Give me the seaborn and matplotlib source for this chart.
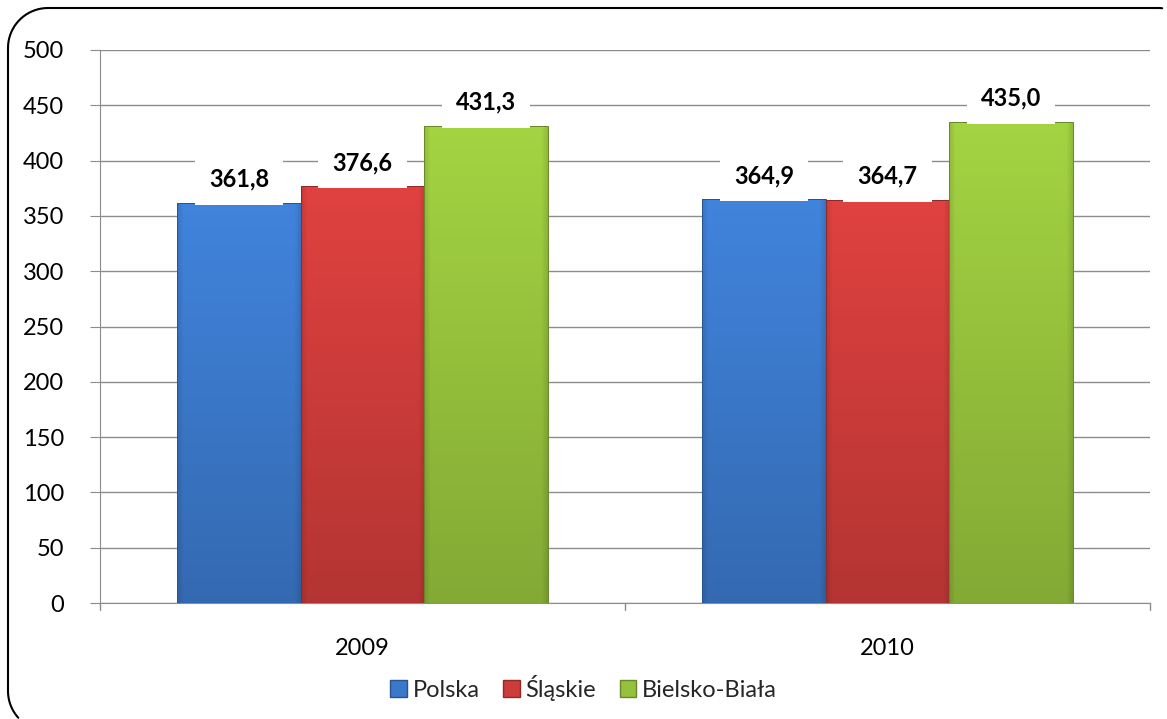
import numpy as np
import pandas as pd
import matplotlib.pyplot as plt
import matplotlib.colors as mcolors
import matplotlib.transforms as mtransforms
import seaborn as sns
from matplotlib.lines import Line2D
from matplotlib.patches import Patch

# data
years = ['2009', '2010']
regions = ['Polska', 'Śląskie', 'Bielsko-Biała']
polska = [361.8, 364.9]
slaskie = [376.6, 364.7]
bielsko = [431.3, 435.0]

colors = ['#3b78c9', '#cc3c3a', '#95c13c']

df = pd.DataFrame({
    'rok': years * 3,
    'region': [r for r in regions for _ in years],
    'wartosc': polska + slaskie + bielsko,
})

sns.set_style('white')
plt.rcParams['font.family'] = ['Lato', 'DejaVu Sans']

fig = plt.figure(figsize=(11.67, 7.19), dpi=100)
ax = fig.add_axes([100 / 1167, 1 - 603 / 719, 1050 / 1167, 553 / 719])

sns.barplot(data=df, x='rok', y='wartosc', hue='region', palette=colors,
            width=0.705, saturation=1, ax=ax, legend=False, zorder=2)

# soft bevel shading: flat middle, darker near the sides, lighter at top
gx = np.linspace(0, 1, 200)
edge = np.minimum(gx, 1 - gx)
shade_x = 0.88 + 0.12 * np.clip(edge / 0.05, 0, 1)
for bar in ax.patches:
    x0, y0 = bar.get_x(), bar.get_y()
    w, h = bar.get_width(), bar.get_height()
    if h == 0:
        continue
    base = np.array(mcolors.to_rgb(bar.get_facecolor()))
    gy = np.linspace(0, 1, 400)  # 0 = top
    shade_y = 1.10 - 0.22 * gy
    img = base[None, None, :] * shade_y[:, None, None] * shade_x[None, :, None]
    img = np.clip(img, 0, 1)
    im = ax.imshow(img, extent=[x0, x0 + w, y0, y0 + h + 5], aspect='auto',
                   origin='upper', zorder=3, interpolation='nearest')
    im.set_clip_path(bar)
    bar.set_facecolor('none')
    bar.set_edgecolor(tuple(base * 0.7))
    bar.set_linewidth(0.7)
    bar.set_zorder(4)

# labels with white box hiding gridlines
for bar in ax.patches:
    h = bar.get_height()
    if h == 0:
        continue
    ax.text(bar.get_x() + bar.get_width() / 2, h + 11,
            f'{h:.1f}'.replace('.', ','), ha='center', va='bottom',
            fontsize=17, fontweight='bold', color='black', zorder=5,
            bbox=dict(facecolor='white', edgecolor='none',
                      boxstyle='square,pad=0.6'))

ax.set_ylim(0, 500)
ax.set_yticks(range(0, 501, 50))
ax.set_xlim(-0.5, 1.5)
ax.yaxis.grid(True, color='#8c8c8c', linewidth=1)
ax.set_axisbelow(True)
ax.set_xlabel('')
ax.set_ylabel('')
for s in ['top', 'right']:
    ax.spines[s].set_visible(False)
for s in ['left', 'bottom']:
    ax.spines[s].set_color('#8c8c8c')
ax.tick_params(axis='y', left=True, length=7, color='#8c8c8c', labelsize=17,
               pad=19, labelcolor='black')
ax.tick_params(axis='x', bottom=False, labelsize=17, pad=22, labelcolor='black')
ax.set_xticks([0, 1], years)
for xm in [-0.5, 0.5, 1.5]:
    ax.plot([xm, xm], [0, -0.0127 * 500], color='#8c8c8c', lw=1, clip_on=False)

handles = [Patch(facecolor=c, edgecolor=tuple(np.array(mcolors.to_rgb(c)) * 0.7)) for c in colors]
fig.legend(handles, regions, loc='center', bbox_to_anchor=(0.5, 1 - 688 / 719),
           ncol=3, frameon=False, fontsize=17, handlelength=0.7, handleheight=0.7,
           handletextpad=0.25, columnspacing=1.0)

# rounded frame (pixel coords), only the part that lies inside the image
r = 40
left, top = 8, 711
t1 = np.linspace(np.radians(84), np.pi / 2, 6)        # start of top-right corner
t2 = np.linspace(np.pi / 2, np.pi, 20)                 # top-left corner
t3 = np.linspace(np.pi, np.radians(222), 12)           # bottom-left corner, partial
bx = np.concatenate([1158 + r * np.cos(t1), left + r + r * np.cos(t2),
                     left + r + r * np.cos(t3)])
by = np.concatenate([top - r + r * np.sin(t1), top - r + r * np.sin(t2),
                     28 + r * np.sin(t3)])
fig.add_artist(Line2D(bx, by, color='black', lw=1.5,
                      transform=mtransforms.IdentityTransform()))

fig.savefig('out.png', dpi=100)
